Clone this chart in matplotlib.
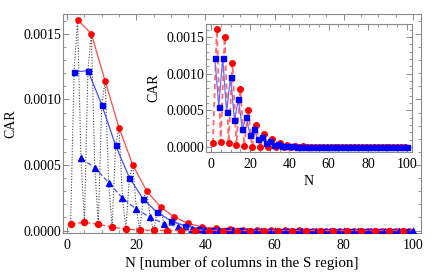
import matplotlib
matplotlib.use("Agg")
import matplotlib.pyplot as plt
from matplotlib.ticker import MultipleLocator, FormatStrFormatter
import numpy as np

plt.rcParams['font.family'] = ['Liberation Serif', 'DejaVu Serif']
plt.rcParams['font.size'] = 10

# CAR for N = 1 .. 100
n_vals = list(range(1, 101))
car = [
    0.000047, 0.00121, 0.00161, 0.00055, 0.000063, 0.00122, 0.00150, 0.00048,
    0.000047, 0.00096, 0.00114, 0.000365, 0.000027, 0.00065, 0.000785, 0.000248,
    0.000011, 0.000403, 0.000498, 0.000162, 0.000004, 0.00024, 0.000302, 0.000101,
    0.000001, 0.000139, 0.000179, 0.000052, 0.0, 0.000075, 0.000103, 0.000029,
    0.0, 0.000036, 0.000054, 0.000013, 0.0, 0.000015, 0.000028, 0.000006,
    0.0, 0.000007, 0.000016, 0.000003, 0.0, 0.000003, 0.000009, 0.000001,
    0.0, 0.000001, 0.000005, 0.0, 0.0, 0.0, 0.000003, 0.0,
    0.0, 0.0, 0.000002, 0.0, 0.0, 0.0, 0.000001, 0.0,
    0.0, 0.0, 0.000001, 0.0, 0.0, 0.0, 0.0, 0.0,
    0.0, 0.0, 0.0, 0.0, 0.0, 0.0, 0.0, 0.0,
    0.0, 0.0, 0.0, 0.0, 0.0, 0.0, 0.0, 0.0,
    0.0, 0.0, 0.0, 0.0, 0.0, 0.0, 0.0, 0.0,
    0.0, 0.0, 0.0, 0.0,
]
n_arr = np.array(n_vals)
car_arr = np.array(car)

frame = '#8a8a8a'


def style_axes(ax):
    for s in ax.spines.values():
        s.set_color(frame)
        s.set_linewidth(0.8)
    ax.tick_params(which='both', direction='in', top=True, right=True,
                   color=frame, labelcolor='black')
    ax.tick_params(which='major', length=4, width=0.7)
    ax.tick_params(which='minor', length=2, width=0.6)
    ax.tick_params(axis='y', pad=1.5)
    ax.tick_params(axis='x', pad=4)
    ax.xaxis.set_major_locator(MultipleLocator(20))
    ax.xaxis.set_minor_locator(MultipleLocator(5))
    ax.yaxis.set_major_locator(MultipleLocator(0.0005))
    ax.yaxis.set_minor_locator(MultipleLocator(0.0001))
    ax.yaxis.set_major_formatter(FormatStrFormatter('%.4f'))


fig = plt.figure(figsize=(4.36, 2.76), dpi=100)

# main plot
ax = fig.add_axes([0.1445, 0.1558, 0.820, 0.7924])
ax.plot(n_arr, car_arr, color='#444444', ls=(0, (1, 1.5)), lw=0.8, zorder=1)

m1 = n_arr % 4 == 1
m2 = n_arr % 4 == 2
m3 = n_arr % 4 == 3
m0 = n_arr % 4 == 0
ax.plot(n_arr[m3], car_arr[m3], color='#ff4a4a', lw=0.9, marker='o', ms=3.8,
        mfc='red', mec='red', zorder=3)
ax.plot(n_arr[m2], car_arr[m2], color='#4a4aff', lw=0.9, marker='s', ms=3.6,
        mfc='blue', mec='blue', zorder=3)
ax.plot(n_arr[m0], car_arr[m0], color='#4a4aff', lw=0.9, ls=(0, (4, 2)),
        marker='^', ms=4, mfc='blue', mec='blue', zorder=3)
ax.plot(n_arr[m1], car_arr[m1], color='#ff4a4a', lw=0.9, ls=(0, (4, 2)),
        marker='o', ms=4.3, mfc='red', mec='red', zorder=3)

ax.set_xlim(-1.2, 102.2)
ax.set_ylim(-0.000019, 0.00165)
style_axes(ax)
ax.set_xlabel('N [number of columns in the S region]', labelpad=3, fontsize=10.8)
ax.set_ylabel('CAR')

# inset
axi = fig.add_axes([0.4725, 0.4493, 0.4725, 0.4638])
axi.set_facecolor('white')
odd = n_arr % 2 == 1
even = n_arr % 2 == 0
axi.plot(n_arr[odd], car_arr[odd], color='#ff6a6a', lw=1.3, ls=(0, (3, 2)),
         marker='o', ms=4, mfc='red', mec='red', zorder=2)
axi.plot(n_arr[even], car_arr[even], color='#6a6aff', lw=0.9, marker='s',
         ms=3.6, mfc='blue', mec='blue', zorder=3)
axi.set_xlim(-2.5, 102.5)
axi.set_ylim(-0.00007, 0.00168)
style_axes(axi)
axi.set_xlabel('N', labelpad=3)
axi.set_ylabel('CAR')

fig.savefig('out.png', dpi=100)
